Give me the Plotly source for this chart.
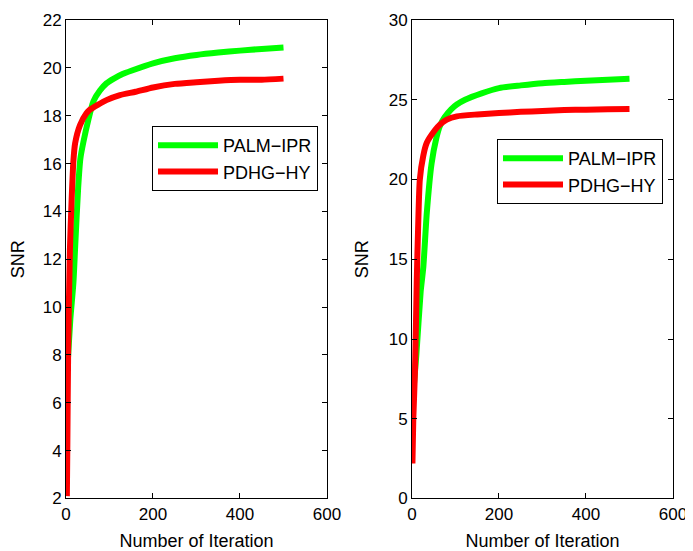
import plotly.graph_objects as go

# Left panel
left_palm_iter = [1, 5, 10, 17, 21, 28, 33, 40, 51, 63, 78, 93, 110, 130, 150, 200, 250, 300, 350, 400, 450, 500]
left_palm_snr = [7.0, 8.0, 9.5, 11.0, 12.5, 15.0, 16.2, 16.9, 17.8, 18.6, 19.05, 19.35, 19.55, 19.74, 19.88, 20.19, 20.4, 20.54, 20.64, 20.72, 20.79, 20.85]
left_pdhg_iter = [2, 3, 5, 9, 13, 17, 21, 32, 47, 55, 93, 124, 160, 200, 250, 300, 350, 400, 450, 500]
left_pdhg_snr = [2.1, 4.0, 8.2, 12.4, 14.5, 16.1, 16.85, 17.6, 18.1, 18.25, 18.65, 18.86, 19.0, 19.18, 19.33, 19.4, 19.46, 19.5, 19.5, 19.55]

# Right panel
right_palm_iter = [1, 10, 20, 26, 34, 45, 56, 64, 75, 90, 103, 122, 160, 200, 250, 300, 350, 400, 450, 500]
right_palm_snr = [6.0, 9.0, 13.0, 14.5, 17.9, 21.0, 22.6, 23.35, 23.9, 24.4, 24.7, 25.0, 25.4, 25.73, 25.9, 26.04, 26.12, 26.19, 26.25, 26.31]
right_pdhg_iter = [1, 3, 7, 11, 14, 18, 26, 34, 53, 64, 80, 103, 150, 200, 250, 300, 350, 400, 450, 500]
right_pdhg_snr = [2.2, 5.0, 8.1, 13.7, 16.9, 20.0, 21.5, 22.3, 23.1, 23.44, 23.75, 23.96, 24.08, 24.17, 24.24, 24.3, 24.35, 24.38, 24.4, 24.42]

names = ["PALM\u2212IPR", "PDHG\u2212HY"]
colors = ["#00FF00", "#FF0000"]
FONT = "Liberation Sans, Arial, Helvetica, sans-serif"
FS = 17
TFS = 18

fig = go.Figure()
panels = [
    ("x", "y", "legend", [(left_palm_iter, left_palm_snr), (left_pdhg_iter, left_pdhg_snr)]),
    ("x2", "y2", "legend2", [(right_palm_iter, right_palm_snr), (right_pdhg_iter, right_pdhg_snr)]),
]
for xa, ya, lg, series in panels:
    for (xs, ys), nm, c in zip(series, names, colors):
        fig.add_trace(go.Scatter(x=xs, y=ys, name=nm, mode="lines",
                                 line=dict(color=c, width=6, shape="spline", smoothing=0.6),
                                 xaxis=xa, yaxis=ya, legend=lg))

axis_common = dict(showline=True, linecolor="black", linewidth=1, mirror="ticks",
                   ticks="inside", ticklen=5, tickcolor="black", showgrid=False, zeroline=False,
                   automargin=False,
                   tickfont=dict(family=FONT, size=FS, color="black"))

# page body has an 8px margin, so the figure is 8px smaller and shifted
W, H = 685, 543

fig.update_layout(
    width=W, height=H,
    margin=dict(l=0, r=0, t=0, b=0, autoexpand=False),
    paper_bgcolor="white", plot_bgcolor="white",
    font=dict(family=FONT, size=FS, color="black"),
    xaxis=dict(domain=[0.08467, 0.46569], range=[0, 600], tickvals=[0, 200, 400, 600],
               title=dict(text="Number of Iteration", font=dict(size=TFS)), anchor="y", **axis_common),
    yaxis=dict(domain=[0.09669, 0.97790], range=[2, 22], tickvals=list(range(2, 23, 2)),
               title=dict(text="SNR", font=dict(size=TFS)), anchor="x", **axis_common),
    xaxis2=dict(domain=[0.58978, 0.97080], range=[0, 600], tickvals=[0, 200, 400, 600],
                title=dict(text="Number of Iteration", font=dict(size=TFS)), anchor="y2", **axis_common),
    yaxis2=dict(domain=[0.09669, 0.97790], range=[0, 30], tickvals=[0, 5, 10, 15, 20, 25, 30],
                title=dict(text="SNR", font=dict(size=TFS)), anchor="x2", **axis_common),
    legend=dict(x=0.21022, y=0.78269, xanchor="left", yanchor="top", bgcolor="white",
                bordercolor="black", borderwidth=1, itemwidth=60, tracegroupgap=0,
                font=dict(family=FONT, size=18, color="black")),
    legend2=dict(x=0.71387, y=0.75875, xanchor="left", yanchor="top", bgcolor="white",
                 bordercolor="black", borderwidth=1, itemwidth=60, tracegroupgap=0,
                 font=dict(family=FONT, size=18, color="black")),
    showlegend=True,
)

fig.write_html("out.html")
